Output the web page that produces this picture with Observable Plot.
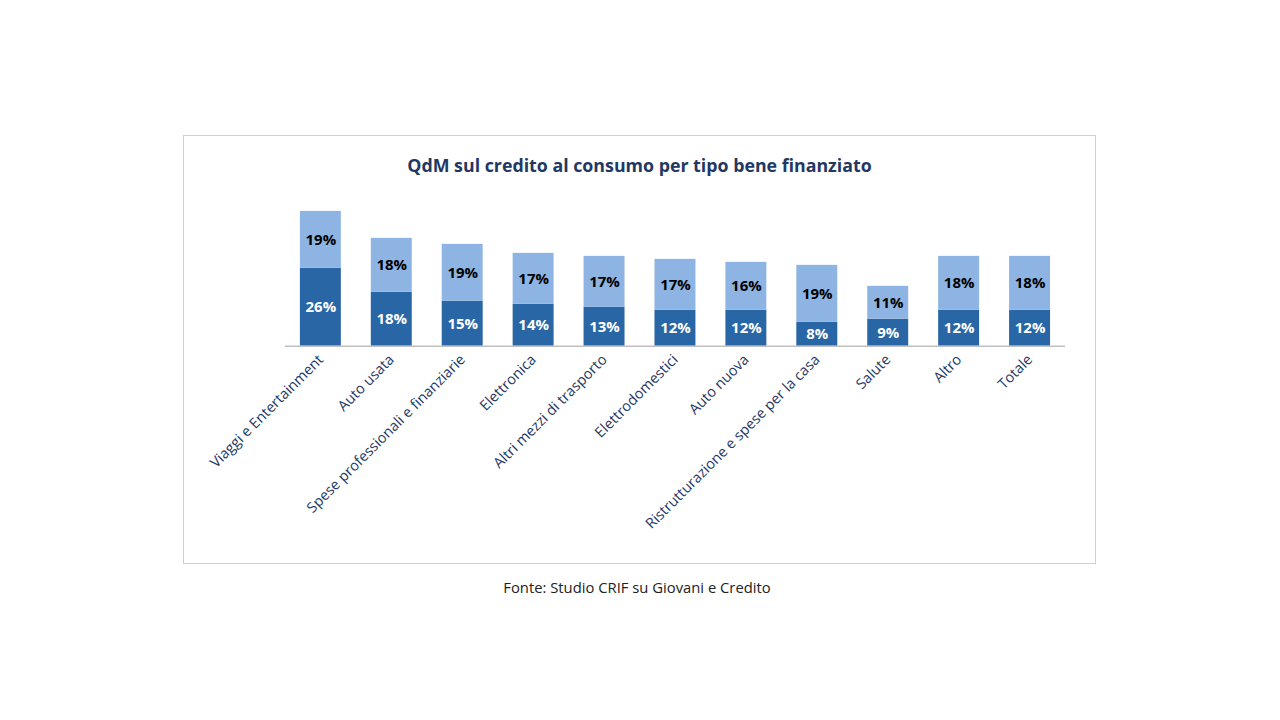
<!DOCTYPE html>
<html><head><meta charset="utf-8">
<script src="https://cdn.jsdelivr.net/npm/d3@7"></script>
<script src="https://cdn.jsdelivr.net/npm/@observablehq/plot@0.6"></script>
<style>
body{margin:0;width:1280px;height:720px;background:#fff;font-family:"Open Sans",sans-serif;position:relative}
#box{position:absolute;left:183px;top:135px;width:911px;height:427px;border:1px solid #d0d0d0}
#title{position:absolute;left:0;width:100%;top:17px;text-align:center;font-weight:bold;font-size:17.8px;color:#1f3864}
#chart{position:absolute;left:-1px;top:-1px}
#cap{position:absolute;top:577px;left:0;width:1274px;text-align:center;font-size:14.8px;color:#222}
</style></head><body>
<div id="box"><div id="chart"></div><div id="title">QdM sul credito al consumo per tipo bene finanziato</div></div>
<div id="cap">Fonte: Studio CRIF su Giovani e Credito</div>
<script>
const categories=["Viaggi e Entertainment","Auto usata","Spese professionali e finanziarie","Elettronica","Altri mezzi di trasporto","Elettrodomestici","Auto nuova","Ristrutturazione e spese per la casa","Salute","Altro","Totale"];
const darkValues=[26,18,15,14,13,12,12,8,9,12,12];
const lightValues=[19,18,19,17,17,17,16,19,11,18,18];
const seriesNames=["dark","light"];
const data=[];
categories.forEach((c,i)=>{data.push({cat:c,s:"dark",v:darkValues[i]});});
categories.forEach((c,i)=>{data.push({cat:c,s:"light",v:lightValues[i]});});
const chart=Plot.plot({
  width:913,height:429,marginLeft:102,marginRight:30,marginTop:61,marginBottom:218,
  style:{fontFamily:"Open Sans",fontSize:"13px"},
  x:{domain:categories,paddingInner:0.42,paddingOuter:0.21,label:null,tickRotate:-45,tickSize:0,tickPadding:11},
  y:{domain:[0,50],axis:null},
  color:{domain:seriesNames,range:["#2866a6","#8db4e2"]},
  marks:[
    Plot.barY(data,Plot.stackY({x:"cat",y:"v",fill:"s"})),
    Plot.ruleY([0],{stroke:"#bfbfbf",strokeWidth:1.5}),
    Plot.text(data,Plot.stackY({x:"cat",y:"v",text:d=>d.v+"%",fill:d=>d.s==="dark"?"#fff":"#000",fontWeight:"bold",fontSize:15}))
  ]
});
chart.querySelectorAll('[aria-label="x-axis tick label"] text').forEach(t=>{t.setAttribute("fill","#1f3864");t.style.fontSize="14.5px";});
document.getElementById("chart").appendChild(chart);
</script>
</body></html>
